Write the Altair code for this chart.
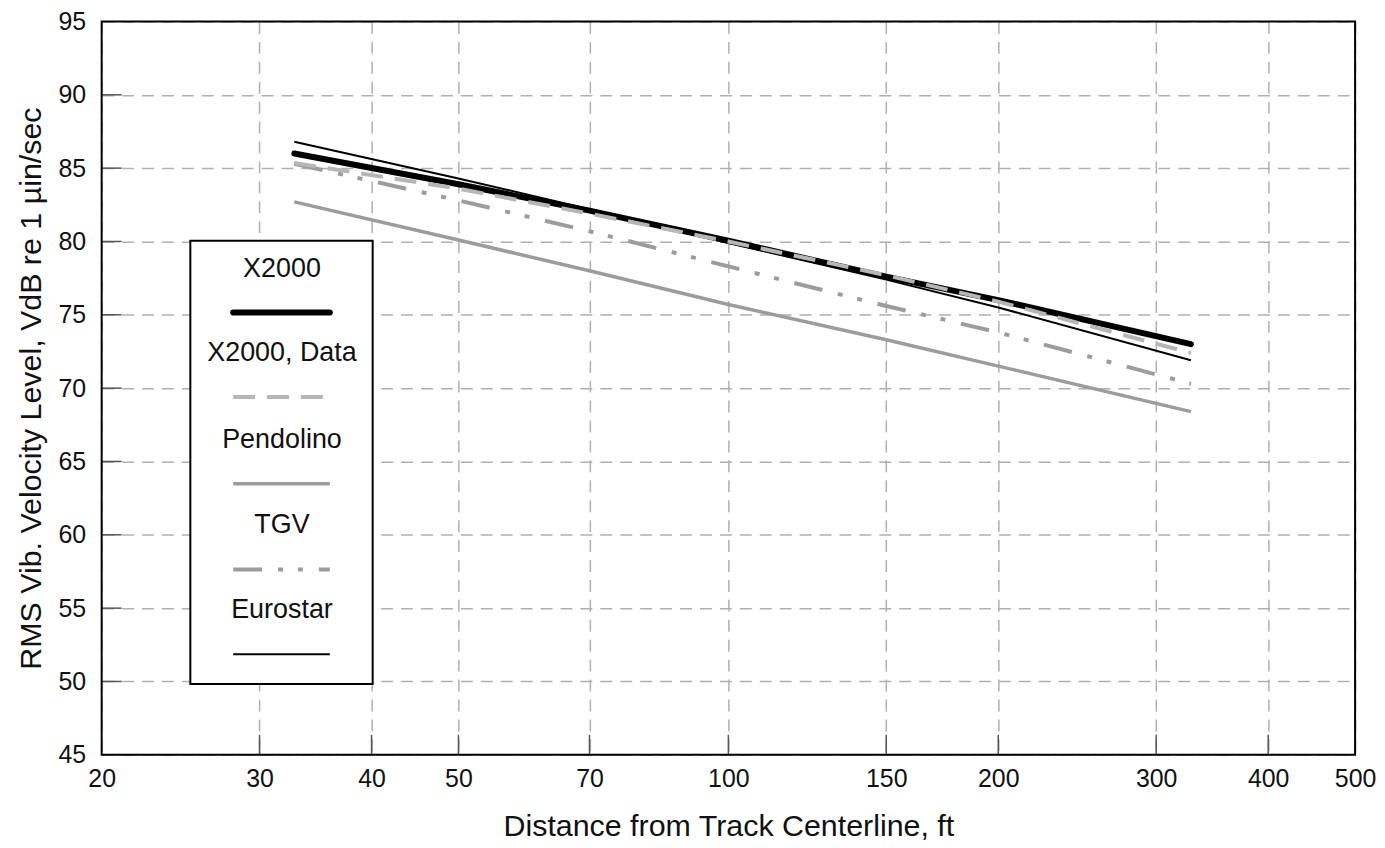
import altair as alt
import pandas as pd

# ---- data ----
series = ["X2000", "X2000, Data", "Pendolino", "TGV", "Eurostar"]
distance_ft = [32.8, 50, 70, 100, 150, 200, 328]
x2000 = [86.0, 83.9, 82.1, 80.05, 77.6, 76.0, 73.0]
x2000_data = [85.35, 83.6, 81.9, 80.0, 77.7, 75.9, 72.4]
pendolino = [82.7, 80.1, 78.0, 75.7, 73.3, 71.5, 68.4]
tgv = [85.3, 82.8, 80.7, 78.3, 75.6, 73.8, 70.3]
eurostar = [86.8, 84.3, 82.2, 79.9, 77.4, 75.5, 71.9]

x_ticks = [20, 30, 40, 50, 70, 100, 150, 200, 300, 400, 500]
y_ticks = [45, 50, 55, 60, 65, 70, 75, 80, 85, 90, 95]

values = {"X2000": x2000, "X2000, Data": x2000_data, "Pendolino": pendolino,
          "TGV": tgv, "Eurostar": eurostar}
rows = []
for s in series:
    for d, v in zip(distance_ft, values[s]):
        rows.append({"series": s, "distance": d, "level": v})
df = pd.DataFrame(rows)

styles = {
    "X2000": dict(color="#000000", strokeWidth=6, strokeCap="round"),
    "X2000, Data": dict(color="#b6b6b6", strokeWidth=4, strokeDash=[22, 12]),
    "Pendolino": dict(color="#9c9c9c", strokeWidth=3.5),
    "TGV": dict(color="#9c9c9c", strokeWidth=4, strokeDash=[29, 16, 5, 15, 5, 16]),
    "Eurostar": dict(color="#000000", strokeWidth=2),
}

W, H = 1258, 736
FONT = "Liberation Sans"
TICK_LEN = 20

xscale = alt.Scale(type="log", domain=[20, 500], nice=False)
yscale = alt.Scale(domain=[45, 95], nice=False, zero=False)

common_axis = dict(grid=True, gridColor="#b0b0b0", gridDash=[12, 8], gridWidth=1.5,
                   ticks=False, domain=False, labelFont=FONT, labelFontSize=25,
                   labelColor="#111111", titleFont=FONT, titleFontSize=30.5,
                   titleFontWeight="normal", titleColor="#111111")

xenc = alt.X("distance:Q", scale=xscale,
             axis=alt.Axis(values=x_ticks, format="d", title="Distance from Track Centerline, ft",
                           labelPadding=12, titlePadding=20, labelFlush=False, **common_axis))
yenc = alt.Y("level:Q", scale=yscale,
             axis=alt.Axis(values=y_ticks, title="RMS Vib. Velocity Level, VdB re 1 µin/sec",
                           labelPadding=16, titlePadding=12, **common_axis))

base = alt.Chart(df).encode(x=xenc, y=yenc)

layers = []
draw_order = ["Pendolino", "TGV", "X2000", "Eurostar", "X2000, Data"]
for s in draw_order:
    layers.append(base.transform_filter(alt.datum.series == s).mark_line(**styles[s]))

# inner tick marks (bottom and left only)
xt = pd.DataFrame({"distance": x_ticks[1:-1]})
yt = pd.DataFrame({"level": y_ticks[1:-1]})
layers.append(alt.Chart(xt).mark_rule(color="#555555", strokeWidth=1.5).encode(
    x=alt.X("distance:Q", scale=xscale), y=alt.value(H), y2=alt.value(H - TICK_LEN)))
layers.append(alt.Chart(yt).mark_rule(color="#555555", strokeWidth=1.5).encode(
    y=alt.Y("level:Q", scale=yscale), x=alt.value(0), x2=alt.value(TICK_LEN)))

# frame
one = pd.DataFrame({"a": [0]})
layers.append(alt.Chart(one).mark_rect(fillOpacity=0, stroke="black", strokeWidth=2).encode(
    x=alt.value(0), x2=alt.value(W), y=alt.value(0), y2=alt.value(H)))

# ---- custom legend box (labels above line samples) ----
layers.append(alt.Chart(one).mark_rect(fill="white", stroke="black", strokeWidth=2).encode(
    x=alt.value(89), x2=alt.value(272), y=alt.value(220), y2=alt.value(665)))

label_y = [248, 333, 420, 505, 591]
sample_y = [292, 377, 464, 550, 635]
for s, ly, sy in zip(series, label_y, sample_y):
    t = alt.Chart(pd.DataFrame({"label": [s]})).mark_text(
        font=FONT, fontSize=27, color="#111111", align="center", baseline="middle"
    ).encode(text="label:N", x=alt.value(181), y=alt.value(ly))
    r = alt.Chart(one).mark_rule(**styles[s]).encode(
        x=alt.value(132), x2=alt.value(229), y=alt.value(sy))
    layers += [t, r]

chart = alt.layer(*layers).properties(
    width=W, height=H,
    autosize=alt.AutoSizeParams(type="none"),
    padding={"left": 94, "top": 12, "right": 22, "bottom": 88},
).configure_view(strokeWidth=0)

chart.save("out.html", embed_options={"renderer": "svg", "actions": False})
